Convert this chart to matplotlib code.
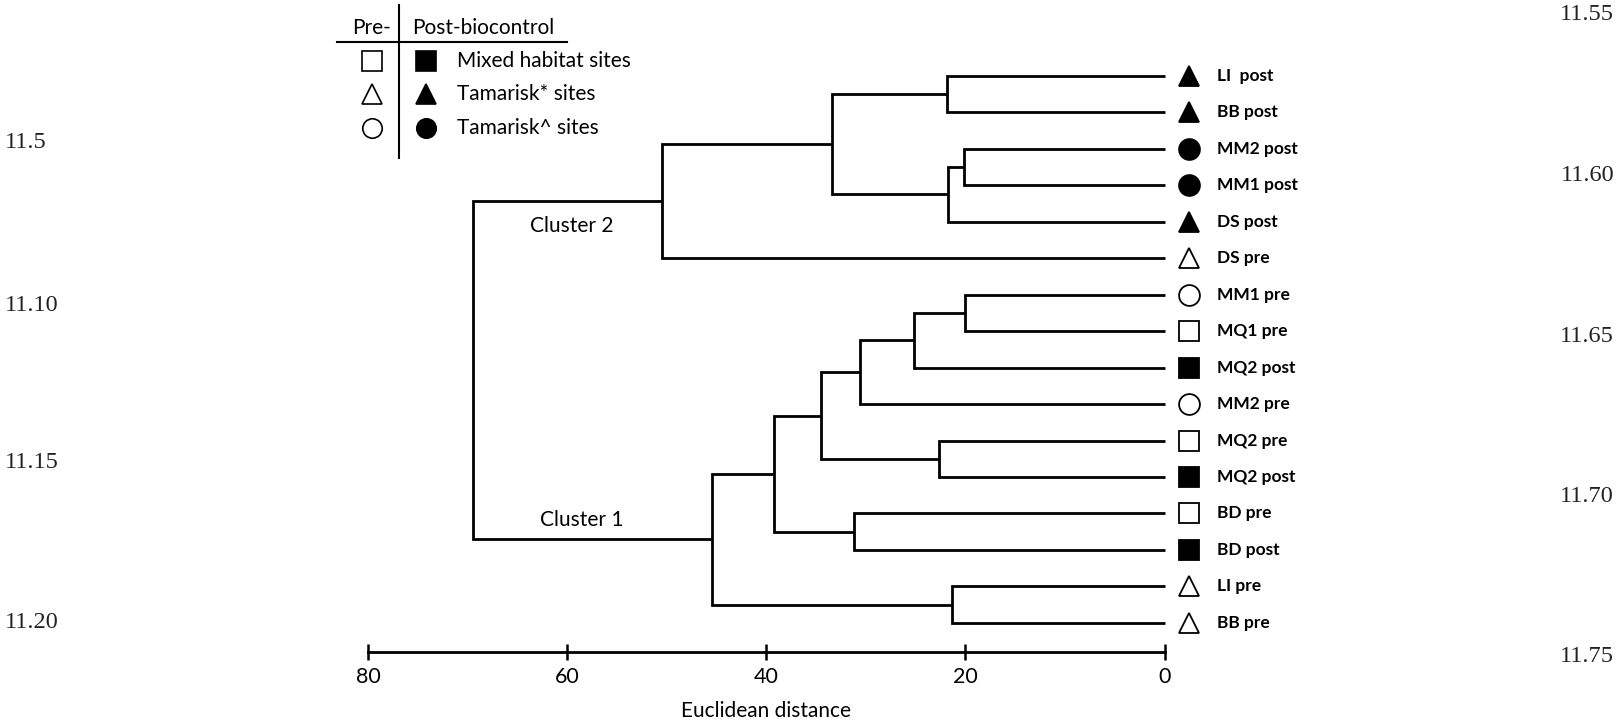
import matplotlib
matplotlib.use("Agg")
import matplotlib.pyplot as plt
from matplotlib.lines import Line2D
import numpy as np

# ---------------- data ----------------
leaf_labels = ["LI  post", "BB post", "MM2 post", "MM1 post", "DS post", "DS pre",
               "MM1 pre", "MQ1 pre", "MQ2 post", "MM2 pre", "MQ2 pre", "MQ2 post",
               "BD pre", "BD post", "LI pre", "BB pre"]
leaf_site = ["tamA", "tamA", "tamB", "tamB", "tamA", "tamA",
             "tamB", "mixed", "mixed", "tamB", "mixed", "mixed",
             "mixed", "mixed", "tamA", "tamA"]
leaf_period = ["post", "post", "post", "post", "post", "pre",
               "pre", "pre", "post", "pre", "pre", "post",
               "pre", "post", "pre", "pre"]

# merges: (child_a, child_b, distance); leaves are 0..15, new nodes 16..30
merge_a = [0, 2, 17, 16, 19, 6, 21, 22, 10, 23, 12, 25, 14, 27, 20]
merge_b = [1, 3, 4, 18, 5, 7, 8, 9, 11, 24, 13, 26, 15, 28, 29]
merge_dist = [21.8, 20.1, 21.7, 33.4, 50.5, 20.0, 25.2, 30.6, 22.6, 34.5,
              31.2, 39.2, 21.3, 45.4, 69.5]

x_ticks = [80, 60, 40, 20, 0]
x_label = "Euclidean distance"
cluster_names = ["Cluster 2", "Cluster 1"]

legend_rows = ["Mixed habitat sites", "Tamarisk* sites", "Tamarisk^ sites"]
legend_sites = ["mixed", "tamA", "tamB"]

left_numbers = ["11.5", "11.10", "11.15", "11.20"]
right_numbers = ["11.55", "11.60", "11.65", "11.70", "11.75"]

# ---------------- styling ----------------
W, H = 1620, 726
fig = plt.figure(figsize=(W / 100, H / 100), dpi=100)
FONT = "Lato"
marker_of = {"mixed": "s", "tamA": "^", "tamB": "o"}
LW = 2.0

def fx(px):
    return px / W

def fy(py):
    return 1 - py / H

ax = fig.add_axes([fx(368), fy(652), fx(1164.5) - fx(368), fy(40) - fy(652)])
ax.set_xlim(80, 0)
ax.set_ylim(15.80, -0.988)

# ---------------- dendrogram ----------------
n = len(leaf_labels)
node_x = list(np.zeros(n))
node_y = list(np.arange(n, dtype=float))
for a, b, d in zip(merge_a, merge_b, merge_dist):
    ax.plot([node_x[a], d, d, node_x[b]], [node_y[a], node_y[a], node_y[b], node_y[b]],
            color="black", lw=LW, solid_joinstyle="miter", solid_capstyle="butt",
            clip_on=False)
    node_x.append(d)
    node_y.append((node_y[a] + node_y[b]) / 2)

# leaf markers and labels
for i, (lab, site, per) in enumerate(zip(leaf_labels, leaf_site, leaf_period)):
    filled = per == "post"
    ax.plot([-2.5], [i], marker=marker_of[site], ms=15,
            mfc="black" if filled else "white", mec="black", mew=1.3,
            clip_on=False, ls="none")
    ax.text(-5.27, i, lab, ha="left", va="center", fontsize=12.5,
            fontweight="bold", family=FONT)

# cluster labels
ax.text(59.5, 4.11, cluster_names[0], ha="center", va="center", fontsize=15, family=FONT)
ax.text(58.5, 12.18, cluster_names[1], ha="center", va="center", fontsize=15, family=FONT)

# ---------------- axis ----------------
for s in ["top", "left", "right"]:
    ax.spines[s].set_visible(False)
ax.spines["bottom"].set_bounds(0, 80)
ax.spines["bottom"].set_linewidth(LW)
ax.set_yticks([])
ax.set_xticks(x_ticks)
ax.set_xticklabels([str(t) for t in x_ticks], fontsize=15.5, family=FONT)
ax.tick_params(axis="x", direction="inout", length=12, width=1.8, pad=5)
ax.set_xlabel(x_label, fontsize=15, family=FONT, labelpad=10)
ax.patch.set_visible(False)

# ---------------- legend (figure coords) ----------------
fig.add_artist(Line2D([fx(399.3), fx(399.3)], [fy(5), fy(158)], color="black", lw=1.5))
fig.add_artist(Line2D([fx(336.7), fx(566.7)], [fy(41.7), fy(41.7)], color="black", lw=1.5))
fig.text(fx(391), fy(27.5), "Pre-", ha="right", va="center", fontsize=15, family=FONT)
fig.text(fx(411.7), fy(27.5), "Post-biocontrol", ha="left", va="center", fontsize=15, family=FONT)
row_y = [61, 94.3, 127.7]
for ry, lab, site in zip(row_y, legend_rows, legend_sites):
    fig.add_artist(Line2D([fx(371.7)], [fy(ry)], marker=marker_of[site], ms=14,
                          mfc="white", mec="black", mew=1.2, ls="none"))
    fig.add_artist(Line2D([fx(426)], [fy(ry)], marker=marker_of[site], ms=14,
                          mfc="black", mec="black", mew=1.2, ls="none"))
    fig.text(fx(456.7), fy(ry), lab, ha="left", va="center", fontsize=15, family=FONT)

# ---------------- page line numbers ----------------
for lab, py in zip(left_numbers, [142, 306, 463, 622]):
    fig.text(fx(5), fy(py), lab, ha="left", va="center", fontsize=17.5,
             family="Liberation Serif", color="#222222")
for lab, py in zip(right_numbers, [14.5, 175.6, 336.8, 497, 657]):
    fig.text(fx(1614), fy(py), lab, ha="right", va="center", fontsize=17.5,
             family="Liberation Serif", color="#222222")

fig.savefig("out.png", dpi=100)
